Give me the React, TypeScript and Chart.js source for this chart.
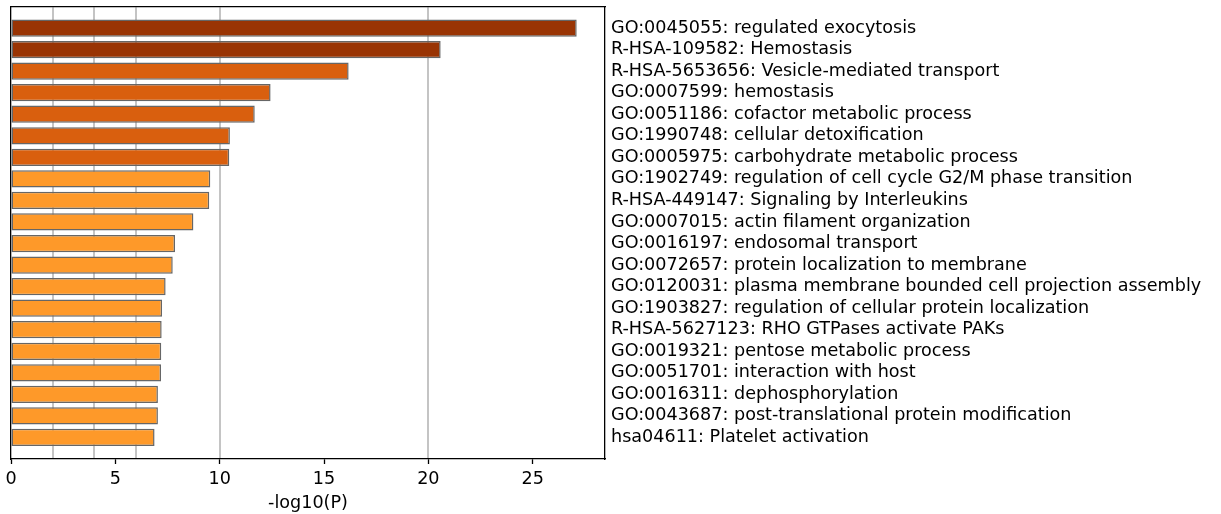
import React, { useEffect, useRef } from "react";
import { Chart, registerables } from "chart.js";

Chart.register(...registerables);

const categories: string[] = [
  "GO:0045055: regulated exocytosis",
  "R-HSA-109582: Hemostasis",
  "R-HSA-5653656: Vesicle-mediated transport",
  "GO:0007599: hemostasis",
  "GO:0051186: cofactor metabolic process",
  "GO:1990748: cellular detoxification",
  "GO:0005975: carbohydrate metabolic process",
  "GO:1902749: regulation of cell cycle G2/M phase transition",
  "R-HSA-449147: Signaling by Interleukins",
  "GO:0007015: actin filament organization",
  "GO:0016197: endosomal transport",
  "GO:0072657: protein localization to membrane",
  "GO:0120031: plasma membrane bounded cell projection assembly",
  "GO:1903827: regulation of cellular protein localization",
  "R-HSA-5627123: RHO GTPases activate PAKs",
  "GO:0019321: pentose metabolic process",
  "GO:0051701: interaction with host",
  "GO:0016311: dephosphorylation",
  "GO:0043687: post-translational protein modification",
  "hsa04611: Platelet activation",
];

const values: number[] = [
  27.11, 20.59, 16.18, 12.44, 11.68, 10.49, 10.46, 9.55, 9.5, 8.74,
  7.86, 7.75, 7.41, 7.24, 7.22, 7.2, 7.19, 7.04, 7.04, 6.88,
];

const barColors: string[] = [
  "#993404", "#993404",
  "#d95f0e", "#d95f0e", "#d95f0e", "#d95f0e", "#d95f0e",
  "#fe9929", "#fe9929", "#fe9929", "#fe9929", "#fe9929", "#fe9929", "#fe9929",
  "#fe9929", "#fe9929", "#fe9929", "#fe9929", "#fe9929", "#fe9929",
];

const gridValues: number[] = [2, 4, 6, 10, 20];
const xTickStep = 5;
const xAxisTitle = "-log10(P)";

export default function App() {
  const ref = useRef<HTMLCanvasElement>(null);

  useEffect(() => {
    if (!ref.current) return;
    const family = "'DejaVu Sans', sans-serif";
    const font = { family, size: 17.6 };
    const xMax = Math.max(...values) * 1.05;
    const chart = new Chart(ref.current, {
      type: "bar",
      data: {
        datasets: [
          {
            data: values.map((v, i) => ({ x: v, y: i })),
            backgroundColor: barColors,
            borderColor: "#666666",
            borderWidth: 1.5,
            borderSkipped: false,
            barPercentage: 0.8,
            categoryPercentage: 1,
          } as any,
        ],
      },
      options: {
        indexAxis: "y",
        animation: false,
        responsive: true,
        maintainAspectRatio: false,
        layout: { padding: { left: 11, top: 6.5, right: 0, bottom: 0 } },
        plugins: { legend: { display: false }, tooltip: { enabled: false } },
        scales: {
          x: {
            type: "linear",
            position: "bottom",
            min: 0,
            max: xMax,
            offset: false,
            ticks: {
              stepSize: xTickStep,
              includeBounds: false,
              color: "#000",
              font,
              padding: 4.5,
              maxRotation: 0,
            },
            grid: {
              display: true,
              drawOnChartArea: false,
              drawTicks: true,
              tickLength: 5,
              tickColor: "#000",
              tickWidth: 1.3,
            },
            border: { display: true, color: "#000", width: 1.3, z: 1 },
            title: {
              display: true,
              text: xAxisTitle,
              color: "#000",
              font,
              padding: { top: 2, bottom: 0.5 },
            },
            afterFit: (s: any) => {
              s.height = 55;
              s.paddingLeft = 0;
              s.paddingRight = 0;
            },
          } as any,
          x2: {
            type: "linear",
            position: "top",
            min: 0,
            max: xMax,
            offset: false,
            afterBuildTicks: (s: any) => {
              s.ticks = gridValues.map((v) => ({ value: v }));
            },
            ticks: { display: false, padding: 0 },
            grid: {
              color: "#c4c4c4",
              lineWidth: 2,
              drawTicks: false,
              tickLength: 0,
              drawOnChartArea: true,
            },
            border: { display: true, color: "#000", width: 1.3, z: 1 },
            afterFit: (s: any) => {
              s.height = 0;
              s.paddingLeft = 0;
              s.paddingRight = 0;
            },
          } as any,
          y: {
            type: "linear",
            position: "right",
            min: -1,
            max: categories.length,
            reverse: true,
            offset: false,
            afterBuildTicks: (s: any) => {
              s.ticks = categories.map((_, i) => ({ value: i }));
            },
            ticks: {
              callback: (v: any) => categories[v as number],
              autoSkip: false,
              padding: 6,
              color: "#000",
              font,
            },
            grid: { display: false, drawTicks: false, tickLength: 0 },
            border: { display: true, color: "#000", width: 1.3, z: 1 },
            afterFit: (s: any) => {
              s.width = 616;
              s.paddingTop = 0;
              s.paddingBottom = 0;
            },
          } as any,
          y2: {
            type: "linear",
            position: "left",
            min: -1,
            max: categories.length,
            reverse: true,
            offset: false,
            ticks: { display: false, padding: 0 },
            grid: { display: false, drawTicks: false, tickLength: 0 },
            border: { display: true, color: "#000", width: 1.3, z: 1 },
            afterFit: (s: any) => {
              s.width = 0;
              s.paddingTop = 0;
              s.paddingBottom = 0;
            },
          } as any,
        },
      },
    });
    return () => chart.destroy();
  }, []);

  return (
    <div style={{ position: "absolute", left: 0, top: 0, width: 1221, height: 514, background: "#fff" }}>
      <canvas ref={ref} />
    </div>
  );
}
